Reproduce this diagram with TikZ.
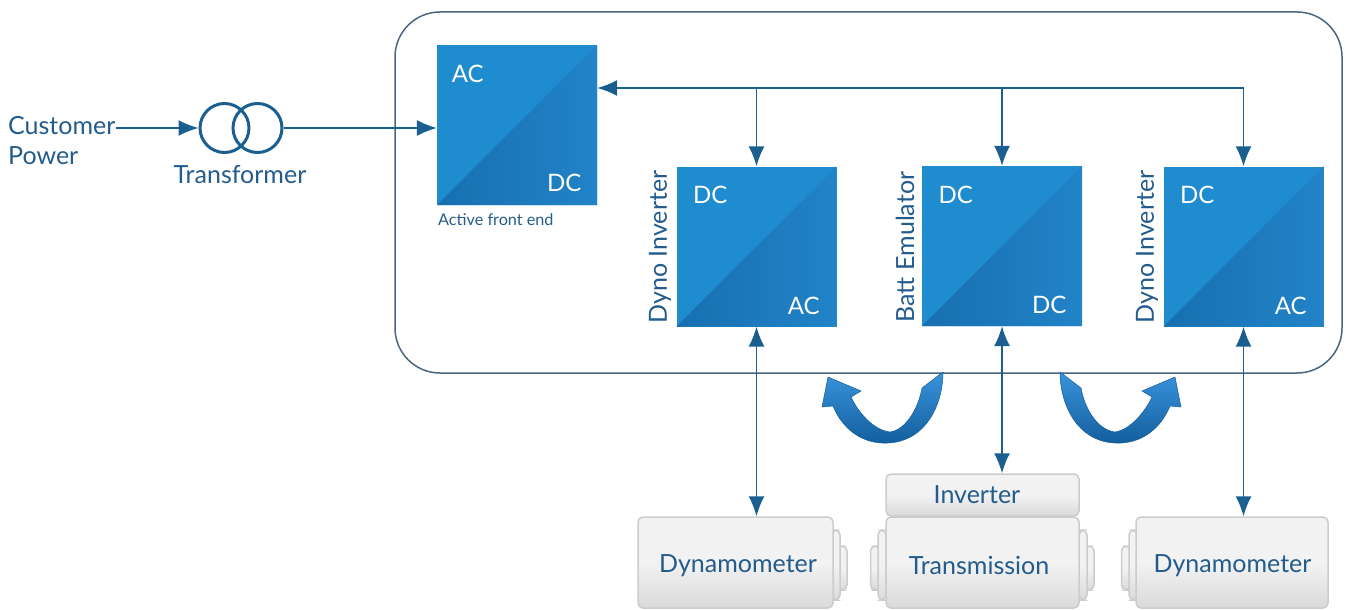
\documentclass[tikz,border=0pt]{standalone}
\usepackage{xcolor}
\usepackage{fontspec}
\setmainfont{Lato}
\usepackage{tikz}
\usetikzlibrary{calc,arrows.meta}

\definecolor{wireblue}{HTML}{1B5F91}
\definecolor{textblue}{HTML}{235C8C}
\definecolor{framegrey}{HTML}{4A6580}

\begin{document}
\begin{tikzpicture}[x=1pt,y=-1pt,
		wire/.style={draw=wireblue,line width=1.5pt},
		onetip/.style={wire,-{Latex[length=20pt,width=16pt]}},
		twotip/.style={wire,{Latex[length=20pt,width=16pt]}-{Latex[length=20pt,width=16pt]}},
		label text/.style={text=textblue,inner sep=0pt,font=\fontsize{25}{30}\selectfont},
		conv text/.style={text=white,inner sep=0pt,font=\fontsize{24}{28}\selectfont},
		coil/.style={circle,draw=wireblue,line width=3pt,minimum size=49pt,inner sep=0pt},
		conv/.style={minimum width=160pt,minimum height=160pt,inner sep=0pt,fill=convlight,
			path picture={
				\fill[left color=convdark,right color=convmid]
					(path picture bounding box.south west) -- (path picture bounding box.north east) -- (path picture bounding box.south east) -- cycle;
			}},
		gear/.style={draw=geargrey,line width=1.5pt,rounded corners=5pt,top color=gearlight,bottom color=geardark,middle color=gearlight,inner sep=0pt},
		sweep/.style={top color=sweeplight,bottom color=sweepdark,draw=sweepdark,line width=0.5pt}]
	\definecolor{convlight}{HTML}{1F8CD0}
	\definecolor{convdark}{HTML}{176FB0}
	\definecolor{convmid}{HTML}{2283C8}
	\definecolor{geargrey}{HTML}{CCCCCC}
	\definecolor{gearlight}{HTML}{F2F2F2}
	\definecolor{geardark}{HTML}{DADADA}
	\definecolor{sweeplight}{HTML}{3A93DC}
	\definecolor{sweepdark}{HTML}{125E9C}

	\useasboundingbox (0,0) rectangle (1346,610);

	\draw[draw=framegrey,line width=1.5pt,rounded corners=45pt] (395,12) rectangle (1342,373);

	\node(customer)[label text,anchor=west] at (8,126) {Customer};
	\node(power)[label text,anchor=west] at (8,156) {Power};
	\node(trafoa)[coil] at (224.5,128) {};
	\node(trafob)[coil] at (257.5,128) {};
	\node(trafolabel)[label text] at (240,175) {Transformer};

	\node(afe)[conv] at (517,125) {};
	\node(afetop)[conv text] at ($(afe.north west)+(31,29)$) {AC};
	\node(afebottom)[conv text] at ($(afe.south east)+(-33,-22)$) {DC};
	\node(afelabel)[text=textblue,inner sep=0pt,font=\fontsize{16.2}{19}\selectfont,anchor=west] at (438,220) {Active front end};

	\node(dynoa)[conv] at (756.5,246.5) {};
	\node(dynoatop)[conv text] at ($(dynoa.north west)+(34,29)$) {DC};
	\node(dynoabottom)[conv text] at ($(dynoa.south east)+(-33,-21)$) {AC};
	\node(dynoalabel)[label text,rotate=90] at (660,247) {Dyno Inverter};

	\node(batt)[conv] at (1002,246) {};
	\node(batttop)[conv text] at ($(batt.north west)+(34,29)$) {DC};
	\node(battbottom)[conv text] at ($(batt.south east)+(-33,-21)$) {DC};
	\node(battlabel)[label text,rotate=90] at (905,247) {Batt Emulator};

	\node(dynob)[conv] at (1243.5,246.5) {};
	\node(dynobtop)[conv text] at ($(dynob.north west)+(34,29)$) {DC};
	\node(dynobbottom)[conv text] at ($(dynob.south east)+(-33,-21)$) {AC};
	\node(dynoblabel)[label text,rotate=90] at (1147,247) {Dyno Inverter};

	\node(capa)[gear,minimum width=9pt,minimum height=44pt] at (842.5,568) {};
	\node(lida)[gear,minimum width=8pt,minimum height=70pt] at (836,565) {};
	\node(dynamoa)[gear,minimum width=195pt,minimum height=91pt] at (735.5,562.5) {};
	\node(dynamoalabel)[label text] at (738,566) {Dynamometer};

	\node(capl)[gear,minimum width=9pt,minimum height=44pt] at (875,568) {};
	\node(lidl)[gear,minimum width=8pt,minimum height=70pt] at (882,565) {};
	\node(capr)[gear,minimum width=9pt,minimum height=44pt] at (1089.5,568) {};
	\node(lidr)[gear,minimum width=8pt,minimum height=70pt] at (1083,565) {};
	\node(trans)[gear,minimum width=193pt,minimum height=91pt] at (982.5,562.5) {};
	\node(translabel)[label text] at (979,565) {Transmission};
	\node(inv)[gear,minimum width=193pt,minimum height=42pt] at (982.5,495) {};
	\node(invlabel)[label text] at (977,495) {Inverter};

	\node(capb)[gear,minimum width=9pt,minimum height=44pt] at (1126,568) {};
	\node(lidb)[gear,minimum width=8pt,minimum height=70pt] at (1133,565) {};
	\node(dynamob)[gear,minimum width=192pt,minimum height=91pt] at (1232,562.5) {};
	\node(dynamoblabel)[label text] at (1232.5,566) {Dynamometer};

	\coordinate(afeport) at (afe.east |- 0,88);
	\coordinate(busa) at (dynoa.north |- afeport);
	\coordinate(busb) at (batt.north |- afeport);
	\coordinate(busc) at (dynob.north |- afeport);

	\draw[onetip] (customer.east |- trafoa) -- (trafoa.west);
	\draw[onetip] (trafob.east) -- (trafob.east -| afe.west);
	\draw[onetip] (busb) -- (afeport);
	\draw[wire] (busc) -- (busb);
	\draw[onetip] (busa) -- (dynoa.north);
	\draw[onetip] (busb) -- (batt.north);
	\draw[onetip] (busc) -- (dynob.north);
	\draw[twotip] (dynoa.south) -- (dynoa.south |- dynamoa.north);
	\draw[twotip] (batt.south) -- (batt.south |- inv.north);
	\draw[twotip] (dynob.south) -- (dynob.south |- dynamob.north);

	\shade[sweep] (943,372) .. controls (943,405) and (925,445) .. (882,443) .. controls (860,442) and (842,428) .. (833,406) -- (822,407) -- (828,377) -- (861,391) -- (851,397) .. controls (858,412) and (873,430) .. (890,432) .. controls (905,430) and (918,410) .. (922,388) -- cycle;
	\shade[sweep] (1060,372) .. controls (1060,405) and (1078,445) .. (1121,443) .. controls (1143,442) and (1161,428) .. (1170,406) -- (1181,407) -- (1175,377) -- (1142,391) -- (1152,397) .. controls (1145,412) and (1130,430) .. (1115,432) .. controls (1098,430) and (1085,410) .. (1081,388) -- cycle;
\end{tikzpicture}
\end{document}
